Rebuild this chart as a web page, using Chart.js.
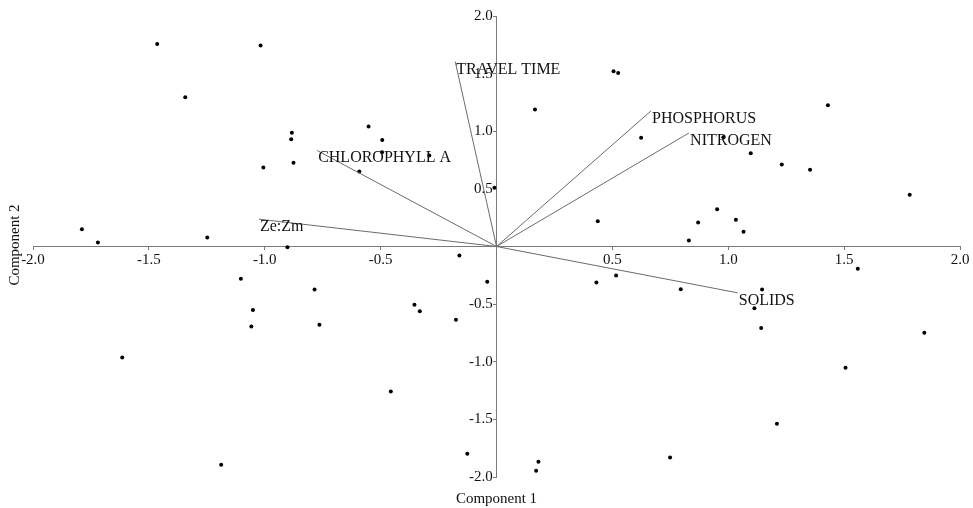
<!DOCTYPE html>
<html>
<head>
<meta charset="utf-8">
<script src="https://cdn.jsdelivr.net/npm/chart.js@4"></script>
<style>
  html, body { margin: 0; padding: 0; background: #fff; }
  #wrap { width: 973px; height: 508px; }
</style>
</head>
<body>
<div id="wrap"><canvas id="biplot"></canvas></div>
<script>
// scores (component 1, component 2)
const pointX = [-1.464, -1.018, -1.343, -0.883, -0.886, -0.876, -1.006, -1.789, -1.720, -1.248,
    -0.902, 0.505, 0.525, 0.166, 0.624, -0.552, -0.493, -0.494, -0.290, -0.592,
    -0.009, 0.437, -0.160, 1.430, 0.979, 1.097, 1.231, 1.353, 1.783, 0.952,
    0.870, 1.033, 1.066, 0.830, -1.103, -0.785, -1.051, -1.058, -0.764, -1.615,
    -1.188, -0.040, -0.354, -0.331, -0.175, -0.456, -0.126, 0.181, 0.171, 0.431,
    0.516, 1.559, 0.795, 1.146, 1.113, 1.142, 1.846, 1.506, 1.210, 0.749];
const pointY = [1.758, 1.743, 1.295, 0.986, 0.931, 0.726, 0.685, 0.150, 0.035, 0.078,
    -0.006, 1.520, 1.506, 1.188, 0.943, 1.041, 0.925, 0.818, 0.790, 0.650,
    0.509, 0.220, -0.078, 1.226, 0.948, 0.809, 0.711, 0.665, 0.448, 0.324,
    0.208, 0.232, 0.127, 0.052, -0.280, -0.373, -0.552, -0.694, -0.679, -0.963,
    -1.893, -0.306, -0.506, -0.561, -0.636, -1.258, -1.798, -1.868, -1.946, -0.312,
    -0.252, -0.194, -0.370, -0.373, -0.535, -0.708, -0.749, -1.052, -1.538, -1.830];

// loadings (vector tips)
const vectorNames = ['TRAVEL TIME', 'CHLOROPHYLL A', 'Ze:Zm', 'PHOSPHORUS', 'NITROGEN', 'SOLIDS'];
const vectorX = [-0.178, -0.774, -1.025, 0.667, 0.831, 1.041];
const vectorY = [1.604, 0.833, 0.237, 1.177, 0.986, -0.402];

const axisTicks = [-2, -1.5, -1, -0.5, 0, 0.5, 1, 1.5, 2];
const xTitle = 'Component 1';
const yTitle = 'Component 2';

const FONT = "'Liberation Serif', 'Times New Roman', serif";
Chart.defaults.font.family = FONT;
Chart.defaults.font.size = 15;
Chart.defaults.color = '#111';

const datasets = vectorNames.map((name, i) => ({
    label: name,
    data: [{ x: 0, y: 0 }, { x: vectorX[i], y: vectorY[i] }],
    showLine: true,
    borderColor: '#6b6b6b',
    borderWidth: 1,
    pointRadius: 0
}));
datasets.push({
    label: 'scores',
    data: pointX.map((x, i) => ({ x: x, y: pointY[i] })),
    pointRadius: 2,
    pointBorderWidth: 0,
    backgroundColor: '#000'
});

// vector names + axis titles
const labelPlugin = {
    id: 'biplotText',
    afterDraw(chart) {
        const ctx = chart.ctx;
        const sx = chart.scales.x, sy = chart.scales.y;
        ctx.save();
        ctx.fillStyle = '#111';
        ctx.font = '16px ' + FONT;
        ctx.textAlign = 'left';
        ctx.textBaseline = 'alphabetic';
        vectorNames.forEach((name, i) => {
            const px = sx.getPixelForValue(vectorX[i]);
            const py = sy.getPixelForValue(vectorY[i]);
            ctx.fillText(name, px + 1, py + 12);
        });
        ctx.font = '15px ' + FONT;
        ctx.textAlign = 'center';
        ctx.textBaseline = 'middle';
        ctx.fillText(xTitle, (chart.chartArea.left + chart.chartArea.right) / 2, 499);
        ctx.translate(15, 245);
        ctx.rotate(-Math.PI / 2);
        ctx.fillText(yTitle, 0, 0);
        ctx.restore();
    }
};

const xTickLabel = v => (v === 0 ? '' : v.toFixed(1));
// centred y axis puts labels flush on the line, a trailing space gives the gap
const yTickLabel = v => (v === 0 ? '' : v.toFixed(1) + ' ');

new Chart(document.getElementById('biplot'), {
    type: 'scatter',
    data: { datasets: datasets },
    options: {
        responsive: true,
        maintainAspectRatio: false,
        animation: false,
        layout: { padding: { left: 33, right: 13, top: 16, bottom: 31 } },
        plugins: { legend: { display: false }, tooltip: { enabled: false } },
        scales: {
            x: {
                type: 'linear',
                min: axisTicks[0],
                max: axisTicks[axisTicks.length - 1],
                position: { y: 0 },
                afterFit: s => { s.height = 0; },
                afterBuildTicks: s => { s.ticks = axisTicks.map(v => ({ value: v })); },
                ticks: { callback: xTickLabel, padding: 2, maxRotation: 0, autoSkip: false },
                grid: { drawOnChartArea: false, drawTicks: true, tickLength: 3, color: '#7a7a7a' },
                border: { display: true, color: '#7a7a7a', width: 1 }
            },
            y: {
                type: 'linear',
                min: axisTicks[0],
                max: axisTicks[axisTicks.length - 1],
                position: { x: 0 },
                afterFit: s => { s.width = 0; },
                afterBuildTicks: s => { s.ticks = axisTicks.map(v => ({ value: v })); },
                ticks: { callback: yTickLabel, padding: 1, autoSkip: false },
                grid: { drawOnChartArea: false, drawTicks: true, tickLength: 3, color: '#7a7a7a' },
                border: { display: true, color: '#7a7a7a', width: 1 }
            }
        }
    },
    plugins: [labelPlugin]
});
</script>
</body>
</html>
